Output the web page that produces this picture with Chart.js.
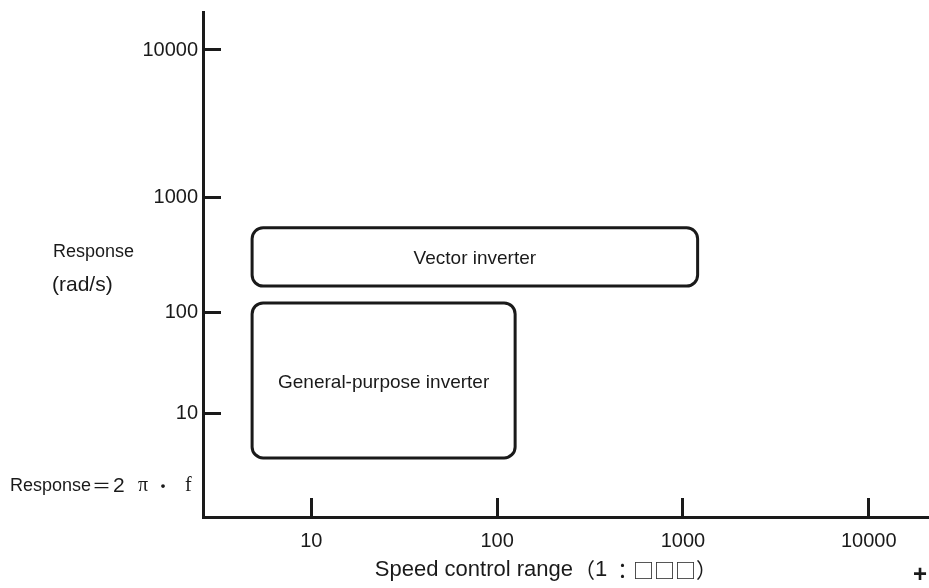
<!DOCTYPE html>
<html>
<head>
<meta charset="utf-8">
<script src="https://cdn.jsdelivr.net/npm/chart.js@4/dist/chart.umd.min.js"></script>
<style>
  body { margin: 0; background: #fff; }
</style>
</head>
<body>
<canvas id="grResponse" width="929" height="588"></canvas>
<script>
// axis ticks
var xTickValues = [10, 100, 1000, 10000];
var yTickValues = [10, 100, 1000, 10000];

// the two regions (speed range 1:N on x, response rad/s on y)
var boxLabels = ['Vector inverter', 'General-purpose inverter'];
var boxSpeedFrom = [4.8, 4.8];
var boxSpeedTo = [1200, 125];
var boxRespFrom = [168, 3.7];
var boxRespTo = [540, 120];

var inkColor = '#1a1a1a';
var fontFamily = "'Liberation Sans', 'Noto Sans CJK JP', sans-serif";
var cjkFamily = "'Noto Sans CJK JP', sans-serif";
var serifFamily = "'Liberation Serif', serif";

// the y axis of the drawing is not a true log axis, each decade has its own height
var decadeHeight = [1.04, 1.01, 1.15, 1.47];
var yTopMargin = 0.38;

function warpY(v) {
	var l = Math.log10(v);
	var acc = 0;
	for (var i = 0; i < decadeHeight.length; i++) {
		if (l <= i + 1) {
			return acc + (l - i) * decadeHeight[i];
		}
		acc += decadeHeight[i];
	}
	return acc + (l - decadeHeight.length) * decadeHeight[decadeHeight.length - 1];
}

var boxPlugin = {
	id: 'boxes',
	afterDatasetsDraw: function(chart) {
		var ctx = chart.ctx;
		var xs = chart.scales.x;
		var ys = chart.scales.y;
		ctx.save();
		ctx.strokeStyle = inkColor;
		ctx.lineWidth = 3;
		for (var i = 0; i < boxLabels.length; i++) {
			var x0 = xs.getPixelForValue(boxSpeedFrom[i]);
			var x1 = xs.getPixelForValue(boxSpeedTo[i]);
			var y0 = ys.getPixelForValue(warpY(boxRespTo[i]));
			var y1 = ys.getPixelForValue(warpY(boxRespFrom[i]));
			ctx.beginPath();
			ctx.roundRect(x0, y0, x1 - x0, y1 - y0, 11);
			ctx.stroke();
			ctx.fillStyle = inkColor;
			ctx.font = '19px ' + fontFamily;
			ctx.textAlign = 'center';
			ctx.textBaseline = 'middle';
			ctx.fillText(boxLabels[i], (x0 + x1) / 2, (y0 + y1) / 2 + 2);
		}
		ctx.restore();
	}
};

var textPlugin = {
	id: 'labels',
	afterDraw: function(chart) {
		var ctx = chart.ctx;
		ctx.save();
		ctx.fillStyle = inkColor;
		ctx.textBaseline = 'middle';
		ctx.textAlign = 'left';
		ctx.font = '18px ' + fontFamily;
		ctx.fillText('Response', 53, 252);
		ctx.font = '21px ' + fontFamily;
		ctx.fillText('(rad/s)', 52, 285);

		// Response = 2 pi . f
		ctx.font = '18px ' + fontFamily;
		ctx.fillText('Response', 10, 486);
		ctx.font = '19px ' + cjkFamily;
		ctx.fillText('＝', 92, 486);
		ctx.font = '21px ' + fontFamily;
		ctx.fillText('2', 113, 486);
		ctx.font = '20px ' + serifFamily;
		ctx.fillText('π', 138, 486);
		ctx.font = '18px ' + cjkFamily;
		ctx.fillText('・', 154, 486);
		ctx.font = '20px ' + serifFamily;
		ctx.fillText('f', 185, 486);

		// x axis title
		ctx.textAlign = 'right';
		ctx.font = '22px ' + fontFamily;
		ctx.fillText('Speed control range', 573, 570);
		ctx.textAlign = 'left';
		var tx = 574;
		ctx.font = '21px ' + cjkFamily;
		ctx.fillText('（', tx, 570);
		tx += ctx.measureText('（').width;
		ctx.font = '22px ' + fontFamily;
		ctx.fillText('1', tx, 570);
		tx += ctx.measureText('1').width;
		ctx.font = '21px ' + cjkFamily;
		ctx.fillText(' ：□□□）', tx, 570);

		ctx.textAlign = 'center';
		ctx.font = 'bold 24px ' + fontFamily;
		ctx.fillText('+', 920, 575);
		ctx.restore();
	}
};

var ctxR = document.getElementById('grResponse').getContext('2d');
window.myChart = new Chart(ctxR, {
	type: 'scatter',
	data: { datasets: [] },
	options: {
		responsive: false,
		animation: false,
		layout: { padding: { top: 12, left: 0, right: 0, bottom: 0 } },
		plugins: { legend: { display: false }, tooltip: { enabled: false } },
		scales: {
			x: {
				type: 'logarithmic',
				min: 2.612,
				max: 21110,
				border: { display: true, width: 3, color: inkColor },
				grid: { display: true, drawOnChartArea: false, drawTicks: true, tickLength: -19, lineWidth: 3, color: inkColor },
				ticks: {
					autoSkip: false,
					maxRotation: 0,
					padding: 31,
					color: inkColor,
					font: { family: fontFamily, size: 20 },
					callback: function(val) { return String(val); }
				},
				afterBuildTicks: function(scale) {
					scale.ticks = xTickValues.map(function(v) { return { value: v }; });
				},
				afterFit: function(scale) {
					scale.height = 71;
					scale.paddingLeft = 0;
					scale.paddingRight = 0;
				}
			},
			y: {
				type: 'linear',
				min: 0,
				max: warpY(10000) + yTopMargin,
				border: { display: true, width: 3, color: inkColor },
				grid: { display: true, drawOnChartArea: false, drawTicks: true, tickLength: -18, lineWidth: 3, color: inkColor },
				ticks: {
					autoSkip: false,
					padding: 23,
					color: inkColor,
					font: { family: fontFamily, size: 20 },
					callback: function(val, idx) { return String(yTickValues[idx]); }
				},
				afterBuildTicks: function(scale) {
					scale.ticks = yTickValues.map(function(v) { return { value: warpY(v) }; });
				},
				afterFit: function(scale) {
					scale.width = 203;
					scale.paddingTop = 0;
					scale.paddingBottom = 0;
				}
			}
		}
	},
	plugins: [boxPlugin, textPlugin]
});
</script>
</body>
</html>
